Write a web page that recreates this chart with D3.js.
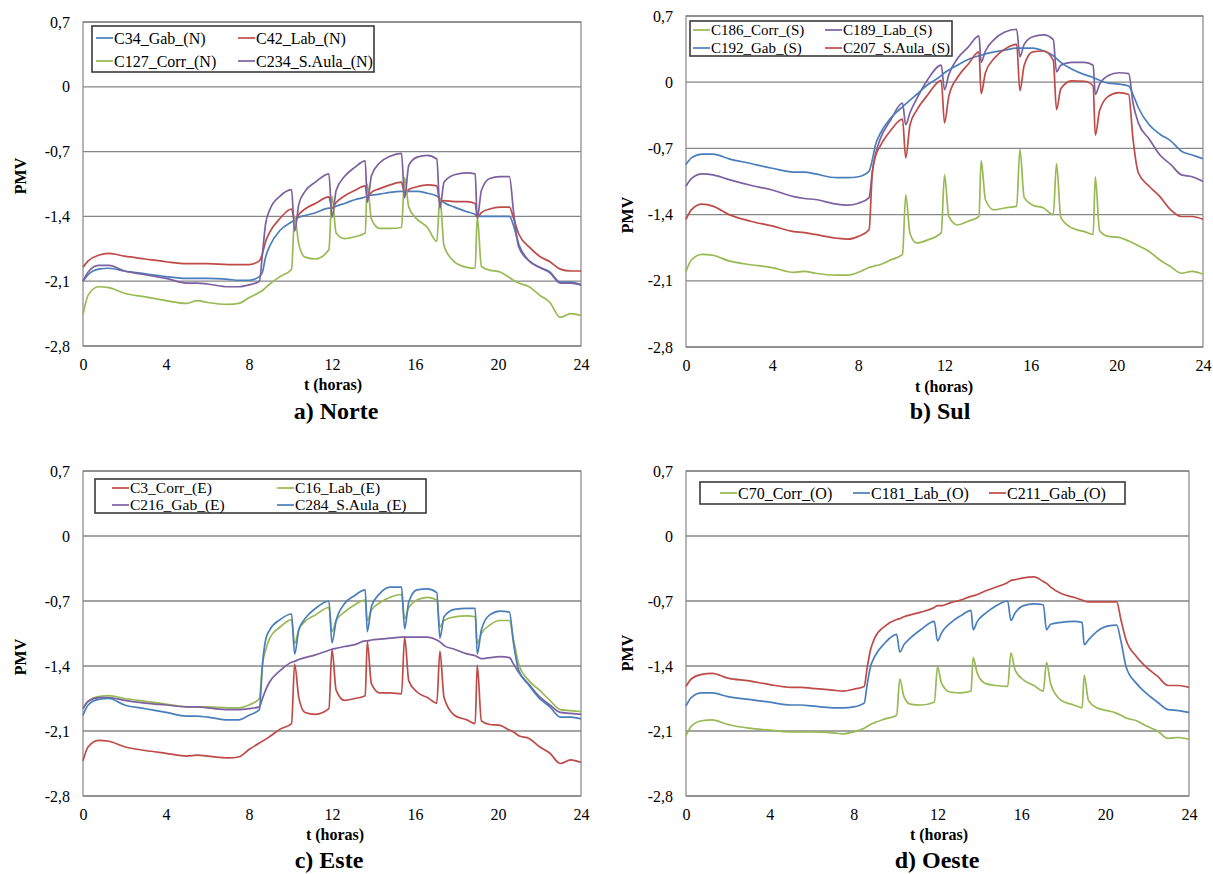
<!DOCTYPE html>
<html><head><meta charset="utf-8">
<script src="https://cdn.jsdelivr.net/npm/d3@7"></script>
<style>body{margin:0;background:#fff}svg{display:block}</style>
</head><body>
<svg id="c" width="1213" height="874"></svg>
<script>
// time axis (hours) shared by all series
const hours = [0,0.25,0.75,1.25,2,3,4,5,5.5,6,7,7.5,8,8.5,
  8.65,8.8,9,9.5,10.05,10.2,10.4,10.7,11.2,11.85,
  12.0,12.2,12.6,13.1,13.6,13.7,13.9,14.3,14.8,15.35,
  15.5,15.7,16.1,16.6,17.05,17.2,17.4,17.9,18.5,18.9,
  19.0,19.2,19.6,20.1,20.55,20.75,21,21.5,22,22.5,23,23.5,24];
const xTicks = [0,4,8,12,16,20,24];
const yTicks = [0.7,0,-0.7,-1.4,-2.1,-2.8];

// a) Norte
const norteGab = [-2.10,-2.03,-1.97,-1.96,-1.99,-2.02,-2.05,-2.07,-2.07,-2.07,-2.08,-2.09,-2.09,-2.05,
  -2.00,-1.84,-1.72,-1.55,-1.46,-1.44,-1.41,-1.39,-1.36,-1.31,
  -1.31,-1.29,-1.26,-1.22,-1.19,-1.18,-1.17,-1.16,-1.14,-1.13,
  -1.13,-1.13,-1.13,-1.15,-1.18,-1.21,-1.25,-1.30,-1.35,-1.38,
  -1.40,-1.40,-1.40,-1.40,-1.40,-1.50,-1.70,-1.88,-1.95,-2.00,-2.11,-2.11,-2.14];
const norteLab = [-1.95,-1.88,-1.82,-1.80,-1.83,-1.86,-1.89,-1.91,-1.91,-1.91,-1.92,-1.92,-1.92,-1.88,
  -1.80,-1.67,-1.57,-1.42,-1.32,-1.45,-1.38,-1.32,-1.26,-1.19,
  -1.31,-1.25,-1.18,-1.12,-1.07,-1.20,-1.14,-1.10,-1.06,-1.03,
  -1.16,-1.11,-1.08,-1.06,-1.07,-1.25,-1.23,-1.24,-1.24,-1.26,
  -1.41,-1.36,-1.32,-1.30,-1.30,-1.42,-1.59,-1.73,-1.83,-1.89,-1.97,-1.99,-1.99];
const norteCorr = [-2.46,-2.25,-2.16,-2.17,-2.23,-2.27,-2.31,-2.34,-2.31,-2.33,-2.35,-2.34,-2.28,-2.22,
  -2.20,-2.17,-2.13,-2.05,-1.97,-1.40,-1.70,-1.84,-1.86,-1.76,
  -1.18,-1.58,-1.64,-1.62,-1.58,-1.05,-1.43,-1.53,-1.53,-1.52,
  -0.98,-1.30,-1.43,-1.52,-1.67,-1.20,-1.72,-1.89,-1.95,-1.96,
  -1.40,-1.94,-1.98,-2.00,-2.06,-2.09,-2.12,-2.16,-2.25,-2.33,-2.49,-2.45,-2.47];
const norteAula = [-2.10,-2.00,-1.93,-1.93,-1.99,-2.03,-2.07,-2.12,-2.12,-2.13,-2.16,-2.16,-2.14,-2.10,
  -1.80,-1.48,-1.33,-1.18,-1.11,-1.56,-1.27,-1.13,-1.03,-0.94,
  -1.41,-1.12,-0.97,-0.87,-0.80,-1.25,-0.96,-0.82,-0.75,-0.72,
  -1.20,-0.85,-0.76,-0.74,-0.78,-1.31,-1.03,-0.95,-0.93,-0.94,
  -1.42,-1.12,-0.99,-0.97,-0.97,-1.35,-1.73,-1.88,-1.95,-2.01,-2.12,-2.12,-2.14];

// b) Sul
const sulCorr = [-2.00,-1.88,-1.82,-1.83,-1.89,-1.93,-1.96,-2.01,-2.00,-2.02,-2.04,-2.04,-2.01,-1.96,
  -1.95,-1.94,-1.93,-1.88,-1.82,-1.19,-1.60,-1.70,-1.67,-1.59,
  -0.98,-1.42,-1.51,-1.47,-1.42,-0.83,-1.24,-1.35,-1.33,-1.31,
  -0.71,-1.22,-1.30,-1.33,-1.40,-0.86,-1.43,-1.54,-1.58,-1.61,
  -1.00,-1.57,-1.63,-1.64,-1.68,-1.70,-1.73,-1.79,-1.88,-1.95,-2.02,-2.00,-2.03];
const sulLab = [-1.10,-1.02,-0.97,-0.98,-1.03,-1.09,-1.14,-1.21,-1.23,-1.24,-1.29,-1.30,-1.28,-1.22,
  -0.95,-0.76,-0.61,-0.40,-0.22,-0.45,-0.32,-0.18,0.02,0.18,
  -0.08,0.08,0.25,0.37,0.49,0.21,0.33,0.45,0.53,0.56,
  0.27,0.40,0.48,0.50,0.45,0.11,0.18,0.21,0.21,0.18,
  -0.13,-0.02,0.07,0.10,0.09,-0.22,-0.43,-0.60,-0.77,-0.87,-0.98,-1.00,-1.05];
const sulGab = [-0.87,-0.80,-0.76,-0.76,-0.81,-0.86,-0.91,-0.95,-0.95,-0.97,-1.01,-1.01,-1.00,-0.94,
  -0.82,-0.66,-0.55,-0.38,-0.26,-0.23,-0.19,-0.13,-0.03,0.07,
  0.10,0.13,0.18,0.24,0.28,0.285,0.30,0.32,0.34,0.36,
  0.36,0.36,0.36,0.33,0.28,0.25,0.21,0.14,0.08,0.05,
  0.04,0.02,-0.01,-0.02,-0.04,-0.13,-0.27,-0.45,-0.55,-0.62,-0.73,-0.77,-0.81];
const sulAula = [-1.45,-1.35,-1.29,-1.31,-1.40,-1.47,-1.52,-1.58,-1.59,-1.61,-1.65,-1.66,-1.63,-1.56,
  -0.95,-0.78,-0.68,-0.51,-0.39,-0.80,-0.45,-0.30,-0.14,0.02,
  -0.43,-0.15,0.05,0.19,0.32,-0.12,0.10,0.25,0.35,0.40,
  -0.09,0.18,0.32,0.33,0.23,-0.29,-0.07,0.015,0.01,-0.04,
  -0.56,-0.30,-0.15,-0.11,-0.13,-0.60,-0.96,-1.10,-1.21,-1.35,-1.42,-1.42,-1.45];

// c) Este
const esteCorr = [-2.42,-2.27,-2.20,-2.21,-2.27,-2.31,-2.34,-2.37,-2.36,-2.37,-2.39,-2.38,-2.30,-2.23,
  -2.21,-2.19,-2.16,-2.08,-2.02,-1.38,-1.74,-1.90,-1.92,-1.86,
  -1.22,-1.66,-1.77,-1.75,-1.72,-1.14,-1.59,-1.69,-1.69,-1.70,
  -1.09,-1.56,-1.68,-1.74,-1.80,-1.24,-1.74,-1.93,-1.98,-2.02,
  -1.39,-1.99,-2.03,-2.04,-2.09,-2.11,-2.15,-2.18,-2.27,-2.34,-2.45,-2.41,-2.44];
const esteLab = [-1.86,-1.78,-1.73,-1.72,-1.75,-1.78,-1.81,-1.84,-1.84,-1.84,-1.85,-1.85,-1.82,-1.75,
  -1.38,-1.23,-1.10,-0.98,-0.90,-1.16,-1.01,-0.92,-0.85,-0.77,
  -1.03,-0.91,-0.82,-0.74,-0.69,-0.91,-0.80,-0.72,-0.66,-0.63,
  -0.89,-0.77,-0.69,-0.66,-0.69,-0.98,-0.91,-0.87,-0.86,-0.87,
  -1.16,-1.05,-0.96,-0.91,-0.91,-1.12,-1.38,-1.56,-1.66,-1.77,-1.87,-1.88,-1.89];
const esteGab = [-1.86,-1.78,-1.74,-1.74,-1.77,-1.80,-1.82,-1.84,-1.84,-1.85,-1.87,-1.87,-1.86,-1.84,
  -1.75,-1.66,-1.57,-1.45,-1.36,-1.35,-1.33,-1.31,-1.28,-1.23,
  -1.22,-1.21,-1.19,-1.17,-1.13,-1.13,-1.12,-1.11,-1.10,-1.09,
  -1.09,-1.09,-1.09,-1.09,-1.12,-1.14,-1.18,-1.22,-1.27,-1.29,
  -1.30,-1.32,-1.31,-1.30,-1.31,-1.38,-1.47,-1.60,-1.73,-1.82,-1.90,-1.91,-1.92];
const esteAula = [-1.93,-1.82,-1.76,-1.75,-1.82,-1.86,-1.90,-1.94,-1.94,-1.95,-1.98,-1.98,-1.93,-1.87,
  -1.38,-1.12,-1.01,-0.90,-0.84,-1.27,-1.01,-0.89,-0.78,-0.70,
  -1.15,-0.91,-0.73,-0.64,-0.58,-1.03,-0.76,-0.62,-0.55,-0.55,
  -1.00,-0.71,-0.58,-0.57,-0.61,-1.10,-0.87,-0.79,-0.78,-0.78,
  -1.27,-1.01,-0.85,-0.81,-0.82,-1.16,-1.45,-1.61,-1.75,-1.84,-1.95,-1.95,-1.97];

// d) Oeste
const oesteCorr = [-2.15,-2.05,-1.99,-1.98,-2.03,-2.07,-2.09,-2.11,-2.11,-2.11,-2.12,-2.13,-2.11,-2.07,
  -2.05,-2.03,-2.01,-1.97,-1.93,-1.54,-1.73,-1.81,-1.82,-1.79,
  -1.41,-1.59,-1.68,-1.69,-1.67,-1.31,-1.48,-1.59,-1.61,-1.62,
  -1.26,-1.44,-1.55,-1.61,-1.67,-1.36,-1.59,-1.77,-1.82,-1.85,
  -1.50,-1.77,-1.85,-1.88,-1.91,-1.93,-1.96,-1.99,-2.05,-2.10,-2.18,-2.17,-2.19];
const oesteLab = [-1.83,-1.74,-1.69,-1.69,-1.73,-1.76,-1.79,-1.82,-1.82,-1.83,-1.85,-1.85,-1.84,-1.80,
  -1.59,-1.41,-1.30,-1.15,-1.06,-1.25,-1.17,-1.10,-1.01,-0.92,
  -1.13,-1.04,-0.94,-0.86,-0.80,-1.01,-0.92,-0.83,-0.75,-0.70,
  -0.91,-0.83,-0.75,-0.73,-0.74,-1.01,-0.95,-0.93,-0.92,-0.93,
  -1.17,-1.12,-1.03,-0.97,-0.96,-1.13,-1.41,-1.59,-1.70,-1.79,-1.87,-1.88,-1.90];
const oesteGab = [-1.62,-1.54,-1.49,-1.48,-1.53,-1.56,-1.60,-1.63,-1.63,-1.64,-1.66,-1.67,-1.65,-1.62,
  -1.41,-1.23,-1.10,-0.97,-0.90,-0.89,-0.87,-0.85,-0.82,-0.77,
  -0.75,-0.75,-0.72,-0.69,-0.65,-0.645,-0.63,-0.59,-0.55,-0.50,
  -0.48,-0.47,-0.45,-0.44,-0.49,-0.51,-0.55,-0.62,-0.66,-0.69,
  -0.70,-0.71,-0.71,-0.71,-0.71,-0.90,-1.12,-1.30,-1.42,-1.51,-1.61,-1.61,-1.63];

const BLUE = '#4A7EBB', RED = '#BE4B48', GREEN = '#98B954', PURPLE = '#7D60A0';
const FONT = '"Liberation Serif","Times New Roman",serif';

const panels = [
  {x0:83, x1:581, y0:22, y1:346, title:'a) Norte', tx:336, ty:419, px:20, py:176, atx:333, aty:384,
   legend:{x:92, y:26, w:282, h:46, fs:16},
   series:[
     {name:'C34_Gab_(N)', v:norteGab, c:BLUE, lx:96, ly:38},
     {name:'C42_Lab_(N)', v:norteLab, c:RED, lx:238, ly:38},
     {name:'C127_Corr_(N)', v:norteCorr, c:GREEN, lx:96, ly:61},
     {name:'C234_S.Aula_(N)', v:norteAula, c:PURPLE, lx:238, ly:61}]},
  {x0:686, x1:1203, y0:16, y1:347, title:'b) Sul', tx:940, ty:419, px:627, py:215, atx:944, aty:386,
   legend:{x:690, y:21, w:262, h:35, fs:15},
   series:[
     {name:'C186_Corr_(S)', v:sulCorr, c:GREEN, lx:693, ly:30},
     {name:'C189_Lab_(S)', v:sulLab, c:PURPLE, lx:825, ly:30},
     {name:'C192_Gab_(S)', v:sulGab, c:BLUE, lx:693, ly:48},
     {name:'C207_S.Aula_(S)', v:sulAula, c:RED, lx:825, ly:48}]},
  {x0:83, x1:581, y0:471, y1:796, title:'c) Este', tx:329, ty:868, px:20, py:657, atx:335, aty:834,
   legend:{x:95, y:479, w:331, h:34, fs:15.5},
   series:[
     {name:'C3_Corr_(E)', v:esteCorr, c:RED, lx:112, ly:488},
     {name:'C16_Lab_(E)', v:esteLab, c:GREEN, lx:277, ly:488},
     {name:'C216_Gab_(E)', v:esteGab, c:PURPLE, lx:112, ly:505},
     {name:'C284_S.Aula_(E)', v:esteAula, c:BLUE, lx:277, ly:505}]},
  {x0:686, x1:1189, y0:471, y1:796, title:'d) Oeste', tx:937, ty:868, px:627, py:653, atx:939, aty:834,
   legend:{x:700, y:482, w:425, h:22, fs:16},
   series:[
     {name:'C70_Corr_(O)', v:oesteCorr, c:GREEN, lx:720, ly:493},
     {name:'C181_Lab_(O)', v:oesteLab, c:BLUE, lx:853, ly:493},
     {name:'C211_Gab_(O)', v:oesteGab, c:RED, lx:989, ly:493}]}
];

const svg = d3.select('#c');
svg.append('rect').attr('width',1213).attr('height',874).attr('fill','#fff');
const fmt = d => d === 0 ? '0' : String(d).replace('.', ',');

panels.forEach(p => {
  const x = d3.scaleLinear().domain([0,24]).range([p.x0,p.x1]);
  const y = d3.scaleLinear().domain([-2.8,0.7]).range([p.y1,p.y0]);
  const g = svg.append('g');

  // gridlines
  g.selectAll('line.grid').data(yTicks).join('line')
    .attr('x1',p.x0).attr('x2',p.x1)
    .attr('y1',d=>y(d)).attr('y2',d=>y(d))
    .attr('stroke','#868686').attr('stroke-width',1.3);
  g.append('rect').attr('x',p.x0).attr('y',p.y0)
    .attr('width',p.x1-p.x0).attr('height',p.y1-p.y0)
    .attr('fill','none').attr('stroke','#868686').attr('stroke-width',1.2);

  // axes
  const ya = g.append('g').attr('transform',`translate(${p.x0},0)`)
    .call(d3.axisLeft(y).tickValues(yTicks).tickSize(0).tickPadding(13).tickFormat(fmt));
  const xa = g.append('g').attr('transform',`translate(0,${p.y1})`)
    .call(d3.axisBottom(x).tickValues(xTicks).tickSize(0).tickPadding(13).tickFormat(d=>String(d)));
  [ya,xa].forEach(a => {
    a.select('.domain').remove();
    a.selectAll('text').attr('font-family',FONT).attr('font-size',16).attr('fill','#000');
  });

  // lines
  const line = d3.line().x((d,i)=>x(hours[i])).y(d=>y(d)).curve(d3.curveMonotoneX);
  p.series.forEach(s => {
    g.append('path').datum(s.v).attr('d',line)
      .attr('fill','none').attr('stroke',s.c).attr('stroke-width',1.7)
      .attr('stroke-linejoin','round');
  });

  // legend
  const L = p.legend;
  g.append('rect').attr('x',L.x).attr('y',L.y).attr('width',L.w).attr('height',L.h)
    .attr('fill','#fff').attr('stroke','#3a3a3a').attr('stroke-width',1.6);
  p.series.forEach(s => {
    g.append('line').attr('x1',s.lx).attr('x2',s.lx+17).attr('y1',s.ly).attr('y2',s.ly)
      .attr('stroke',s.c).attr('stroke-width',1.7);
    g.append('text').attr('x',s.lx+18).attr('y',s.ly).attr('dy','0.35em')
      .attr('font-family',FONT).attr('font-size',L.fs).text(s.name);
  });

  // titles
  g.append('text').attr('x',p.atx).attr('y',p.aty).attr('dy','0.35em').attr('text-anchor','middle')
    .attr('font-family',FONT).attr('font-weight','bold').attr('font-size',16).text('t (horas)');
  g.append('text').attr('transform',`translate(${p.px},${p.py}) rotate(-90)`).attr('dy','0.35em')
    .attr('text-anchor','middle').attr('font-family',FONT).attr('font-weight','bold')
    .attr('font-size',16).text('PMV');
  g.append('text').attr('x',p.tx).attr('y',p.ty).attr('text-anchor','middle')
    .attr('font-family',FONT).attr('font-weight','bold').attr('font-size',24).text(p.title);
});
</script>
</body></html>
